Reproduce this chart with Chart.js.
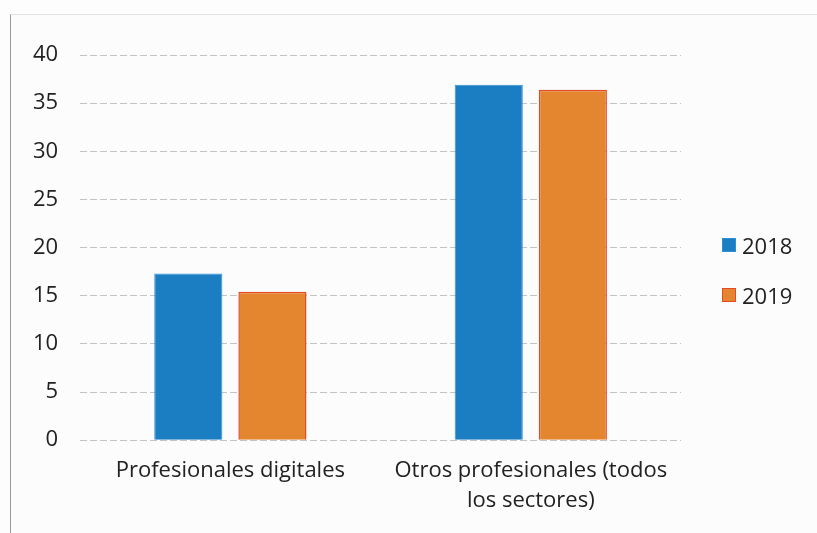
<!DOCTYPE html>
<html lang="es">
<head>
  <meta charset="UTF-8" />
  <title>Profesionales digitales 2018-2019</title>
  <script src="https://cdn.jsdelivr.net/npm/chart.js"></script>
  <style>
    html, body { margin: 0; padding: 0; background: #fdfdfd; }
    #wrap {
      position: absolute; left: 10px; top: 14px; width: 807px; height: 519px;
      border-left: 1px solid #9a9a9a; border-top: 1px solid #e2e2e2;
      background: #fcfcfc;
    }
    #legend {
      position: absolute; left: 711px; top: 205px;
      font-family: "Open Sans", sans-serif; font-size: 22px; color: #222;
    }
    #legend div { display: flex; align-items: center; height: 50px; }
    #legend span.box { width: 14px; height: 14px; margin-right: 6px; box-sizing: border-box; }
  </style>
</head>
<body>
  <div id="wrap"><canvas id="chart"></canvas><div id="legend"></div></div>

  <script>
    // data
    const categories = ['Profesionales digitales', ['Otros profesionales (todos', 'los sectores)']];
    const years = ['2018', '2019'];
    const values2018 = [17.3, 36.9];
    const values2019 = [15.4, 36.4];
    const yTicks = [0, 5, 10, 15, 20, 25, 30, 35, 40];

    const font = { family: '"Open Sans", sans-serif', size: 22, lineHeight: 1.36 };
    Chart.defaults.color = '#222';

    const chart = new Chart(document.getElementById('chart'), {
      type: 'bar',
      data: {
        labels: categories,
        datasets: [
          {
            label: years[0],
            data: values2018,
            backgroundColor: '#1b7dc2',
            borderColor: '#2f8fd3',
            borderWidth: 1
          },
          {
            label: years[1],
            data: values2019,
            backgroundColor: '#e3862f',
            borderColor: '#e54a26',
            borderWidth: 1.5
          }
        ]
      },
      options: {
        responsive: true,
        maintainAspectRatio: false,
        animation: false,
        categoryPercentage: 0.56,
        barPercentage: 0.81,
        layout: { padding: { top: 40, left: 0, right: 137, bottom: 10 } },
        plugins: {
          tooltip: { enabled: false },
          legend: { display: false }
        },
        scales: {
          x: {
            grid: { display: false },
            border: { display: false },
            ticks: { font: font, padding: 8, maxRotation: 0, color: '#222' }
          },
          y: {
            min: yTicks[0],
            max: yTicks[yTicks.length - 1],
            afterBuildTicks: (axis) => { axis.ticks = yTicks.map(v => ({ value: v })); },
            grid: { color: '#c4c4c4', drawTicks: false, lineWidth: 1 },
            border: { display: false, dash: [7, 3] },
            ticks: { font: font, padding: 22, color: '#222' }
          }
        }
      }
    });

    // legend built from the datasets
    const legend = document.getElementById('legend');
    chart.data.datasets.forEach(ds => {
      const row = document.createElement('div');
      row.innerHTML = '<span class="box" style="background:' + ds.backgroundColor +
        ';border:1px solid ' + ds.borderColor + '"></span>' + ds.label;
      legend.appendChild(row);
    });
  </script>
</body>
</html>
